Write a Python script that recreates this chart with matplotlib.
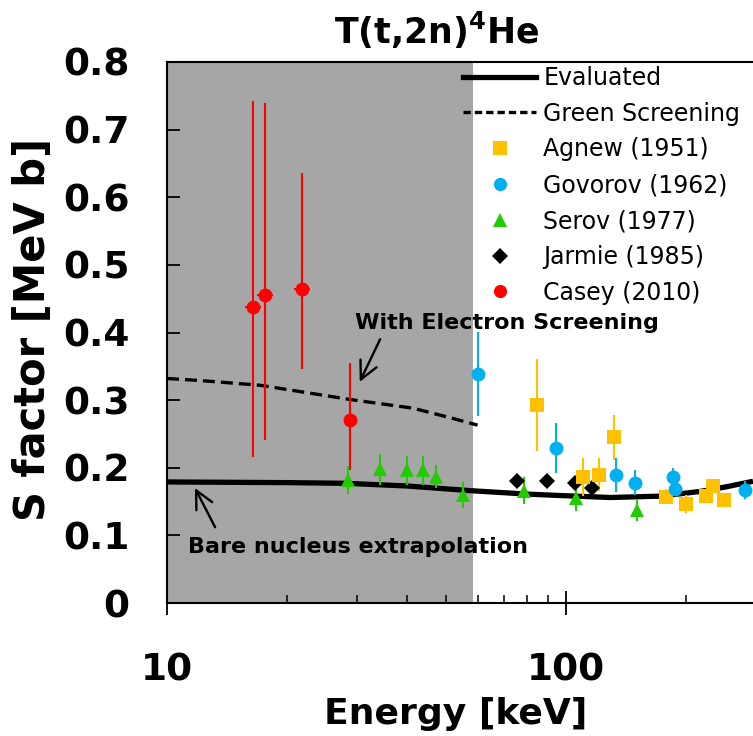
import numpy as np
import matplotlib
matplotlib.use("Agg")
import matplotlib.pyplot as plt
from matplotlib.lines import Line2D

plt.rcParams['font.family'] = ['DejaVu Sans']
plt.rcParams['mathtext.fontset'] = 'dejavusans'

# Evaluated S-factor curve (bare nucleus) and Green screening curve
eval_E = [10, 20, 28, 40, 58, 80, 96, 129, 172, 217, 253, 294]
eval_S = [0.179, 0.178, 0.177, 0.173, 0.166, 0.161, 0.159, 0.156, 0.158, 0.165, 0.172, 0.180]

green_E = [10, 12.1, 17.1, 28.7, 41.4, 52, 60]
green_S = [0.332, 0.329, 0.322, 0.301, 0.288, 0.273, 0.263]

# Measurements
agnew_E = [84.7, 110.1, 121, 131.9, 177.8, 199.5, 224, 234, 249]
agnew_S = [0.293, 0.186, 0.190, 0.245, 0.157, 0.146, 0.158, 0.173, 0.153]
agnew_err = [0.068, 0.028, 0.025, 0.033, 0.011, 0.013, 0.006, 0.006, 0.006]

govorov_E = [60.0, 94.6, 133.2, 149.2, 185.1, 187.9, 281]
govorov_S = [0.339, 0.229, 0.189, 0.178, 0.187, 0.168, 0.167]
govorov_err = [0.062, 0.037, 0.025, 0.018, 0.013, 0.008, 0.013]

serov_E = [28.4, 34.2, 39.9, 43.7, 47.2, 55.3, 78.5, 105.8, 150.3]
serov_S = [0.182, 0.198, 0.196, 0.196, 0.187, 0.160, 0.166, 0.155, 0.137]
serov_err = [0.021, 0.023, 0.022, 0.022, 0.017, 0.019, 0.020, 0.019, 0.016]

jarmie_E = [75.5, 89.7, 105.3, 116]
jarmie_S = [0.180, 0.180, 0.177, 0.170]

casey_E = [16.45, 17.6, 21.8, 28.7]
casey_S = [0.438, 0.455, 0.465, 0.271]
casey_err_lo = [0.222, 0.214, 0.119, 0.075]
casey_err_hi = [0.304, 0.285, 0.171, 0.084]
casey_xerr = [0.8, 0.8, 1.0, 0.0]

screened_region = (10, 58.5)

C_AGNEW = '#FFC000'
C_GOVOROV = '#00B0F0'
C_SEROV = '#22CC00'
C_JARMIE = '#000000'
C_CASEY = '#FF0000'

fig = plt.figure(figsize=(7.53, 7.36), dpi=100)
ax = fig.add_axes([167 / 753, 1 - 603 / 736, 1 - 167 / 753, (603 - 62) / 736])

ax.axvspan(*screened_region, color='#a6a6a6', lw=0, zorder=0)

ax.plot(eval_E, eval_S, color='black', lw=3.8, solid_capstyle='butt', zorder=2)
ax.plot(green_E, green_S, color='black', lw=2.4, dashes=(3.6, 1.8), zorder=2)

ekw = dict(elinewidth=1.5, capsize=0, ls='none', zorder=3)
ax.errorbar(agnew_E, agnew_S, yerr=agnew_err, fmt='s', color=C_AGNEW, ms=10,
            mew=0, **ekw)
ax.errorbar(govorov_E, govorov_S, yerr=govorov_err, fmt='o', color=C_GOVOROV,
            ms=10, mew=0, **ekw)
ax.errorbar(serov_E, serov_S, yerr=serov_err, fmt='^', color=C_SEROV, ms=10.5,
            mew=0, **ekw)
ax.plot(jarmie_E, jarmie_S, 'D', color=C_JARMIE, ms=8, mew=0, ls='none', zorder=3)
ax.errorbar(casey_E, casey_S, yerr=[casey_err_lo, casey_err_hi], xerr=casey_xerr,
            fmt='o', color=C_CASEY, ms=10, mew=0, **ekw)

ax.set_xscale('log')
ax.set_xlim(10, 294)
ax.set_ylim(0, 0.8)
ax.set_yticks(np.arange(0, 0.81, 0.1))
ax.set_yticklabels(['0', '0.1', '0.2', '0.3', '0.4', '0.5', '0.6', '0.7', '0.8'])
ax.set_xticks([10, 100])
ax.set_xticklabels(['10', '100'])

ax.tick_params(axis='y', direction='in', length=9, width=1.3, pad=27,
               labelsize=27)
for lab in ax.get_yticklabels():
    lab.set_fontweight('bold')
ax.tick_params(axis='x', which='major', direction='inout', length=17, width=1.3,
               pad=27, labelsize=27)
ax.tick_params(axis='x', which='minor', direction='in', length=6, width=1.1)
for lab in ax.get_xticklabels():
    lab.set_fontweight('bold')

for side in ('left', 'bottom', 'top'):
    ax.spines[side].set_linewidth(1.5)
ax.spines['right'].set_visible(False)

fig.text(0.044, 0.552, 'S factor [MeV b]', rotation=90, ha='center', va='center',
         fontsize=30, fontweight='bold')
fig.text(0.605, 0.030, 'Energy [keV]', ha='center', va='center', fontsize=26,
         fontweight='bold')
fig.text(0.580, 0.959, r'T(t,2n)$^{\mathbf{4}}$He', ha='center', va='center',
         fontsize=25, fontweight='bold')

ax.annotate('', xy=(30.4, 0.327), xytext=(34.2, 0.390),
            arrowprops=dict(arrowstyle='->', lw=1.7, color='black',
                            mutation_scale=32, shrinkA=0, shrinkB=0))
ax.text(29.6, 0.414, 'With Electron Screening', ha='left', va='center',
        fontsize=16, fontweight='bold')

ax.annotate('', xy=(11.75, 0.170), xytext=(13.2, 0.112),
            arrowprops=dict(arrowstyle='->', lw=1.7, color='black',
                            mutation_scale=32, shrinkA=0, shrinkB=0))
ax.text(11.29, 0.083, 'Bare nucleus extrapolation', ha='left', va='center',
        fontsize=16, fontweight='bold')

handles = [
    Line2D([], [], color='black', lw=3.8),
    Line2D([], [], color='black', lw=2.4, dashes=(2.2, 1.2)),
    Line2D([], [], color=C_AGNEW, marker='s', ms=10, ls='none', mew=0),
    Line2D([], [], color=C_GOVOROV, marker='o', ms=9.5, ls='none', mew=0),
    Line2D([], [], color=C_SEROV, marker='^', ms=9.5, ls='none', mew=0),
    Line2D([], [], color=C_JARMIE, marker='D', ms=7.8, ls='none', mew=0),
    Line2D([], [], color=C_CASEY, marker='o', ms=9.5, ls='none', mew=0),
]
labels = ['Evaluated', 'Green Screening', 'Agnew (1951)', 'Govorov (1962)',
          'Serov (1977)', 'Jarmie (1985)', 'Casey (2010)']
ax.legend(handles, labels, loc='upper left', bbox_to_anchor=(0.505, 0.993),
          frameon=False, fontsize=17, handlelength=3.1, handletextpad=0.3,
          labelspacing=0.5, borderpad=0, borderaxespad=0)

fig.savefig('out.png', dpi=100)
